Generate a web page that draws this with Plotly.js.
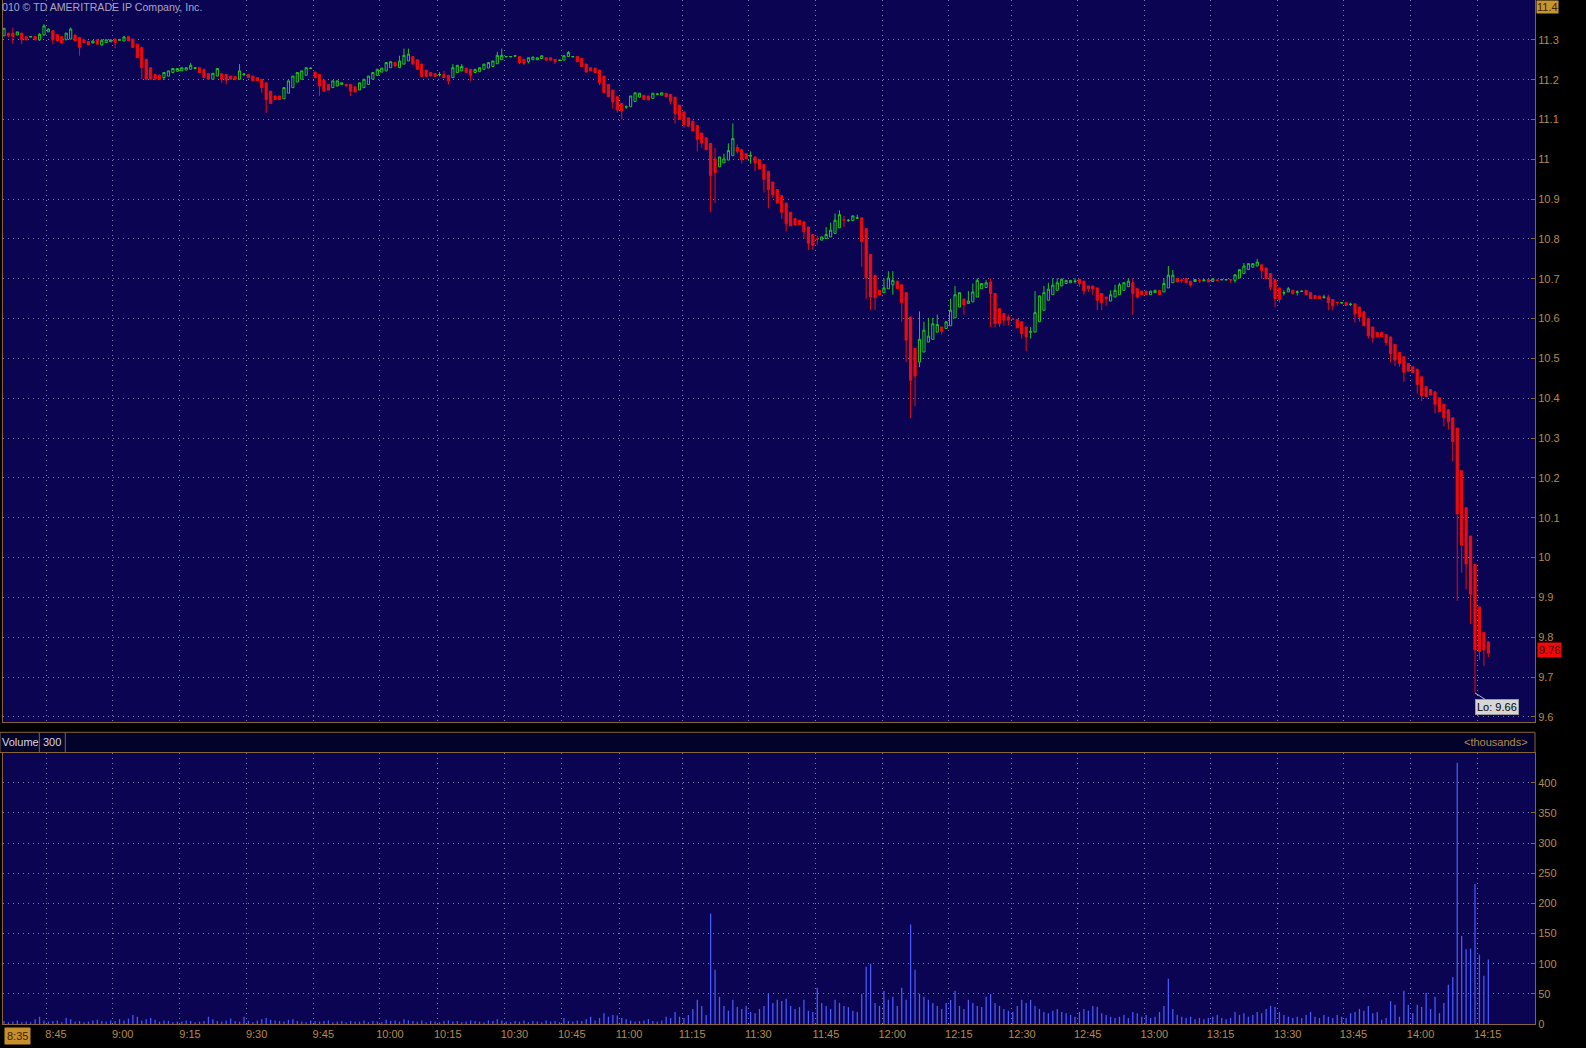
<!DOCTYPE html>
<html><head><meta charset="utf-8">
<script src="https://cdn.plot.ly/plotly-3.0.1.min.js"></script>
<style>html,body{margin:0;padding:0;background:#000;} #chart{width:1586px;height:1048px;}</style>
</head><body><div id="chart"></div>
<script>
// ---- data (1-minute bars, index order) ----
const openP = [
11.310,11.317,11.317,11.312,11.317,11.308,11.307,11.308,11.300,11.312,
11.320,11.323,11.313,11.308,11.300,11.302,11.312,11.306,11.300,11.296,
11.292,11.300,11.287,11.293,11.295,11.302,11.299,11.297,11.308,11.302,
11.289,11.281,11.251,11.230,11.213,11.211,11.205,11.209,11.218,11.221,
11.222,11.224,11.226,11.228,11.230,11.226,11.215,11.201,11.209,11.215,
11.213,11.209,11.208,11.201,11.213,11.213,11.209,11.205,11.201,11.192,
11.171,11.159,11.159,11.152,11.166,11.180,11.194,11.201,11.211,11.228,
11.219,11.213,11.199,11.188,11.180,11.184,11.188,11.188,11.188,11.182,
11.174,11.180,11.188,11.201,11.211,11.219,11.222,11.230,11.243,11.230,
11.239,11.247,11.258,11.250,11.239,11.224,11.218,11.215,11.212,11.213,
11.211,11.205,11.218,11.222,11.229,11.226,11.218,11.220,11.226,11.229,
11.233,11.240,11.250,11.257,11.257,11.259,11.258,11.251,11.245,11.250,
11.250,11.253,11.255,11.255,11.251,11.248,11.249,11.258,11.257,11.258,
11.253,11.239,11.230,11.229,11.224,11.209,11.188,11.174,11.157,11.140,
11.131,11.132,11.145,11.156,11.161,11.159,11.153,11.163,11.161,11.166,
11.163,11.156,11.136,11.119,11.104,11.096,11.085,11.066,11.054,11.040,
11.001,10.981,10.991,10.998,11.009,11.030,11.024,11.014,11.008,11.006,
10.999,10.987,10.970,10.943,10.924,10.909,10.890,10.867,10.851,10.847,
10.843,10.830,10.811,10.800,10.797,10.801,10.805,10.814,10.828,10.848,
10.846,10.846,10.852,10.853,10.826,10.761,10.709,10.671,10.665,10.675,
10.685,10.694,10.685,10.665,10.604,10.525,10.491,10.516,10.541,10.548,
10.566,10.579,10.575,10.582,10.602,10.629,10.649,10.638,10.642,10.654,
10.675,10.678,10.692,10.663,10.625,10.613,10.604,10.599,10.598,10.592,
10.579,10.566,10.566,10.592,10.621,10.646,10.660,10.671,10.682,10.688,
10.690,10.693,10.699,10.694,10.682,10.682,10.677,10.663,10.654,10.644,
10.654,10.660,10.671,10.680,10.690,10.675,10.669,10.669,10.660,10.665,
10.671,10.667,10.677,10.690,10.701,10.697,10.701,10.694,10.693,10.697,
10.695,10.698,10.693,10.697,10.697,10.697,10.698,10.696,10.702,10.713,
10.723,10.729,10.732,10.735,10.727,10.713,10.698,10.677,10.664,10.667,
10.671,10.666,10.668,10.671,10.665,10.658,10.657,10.653,10.654,10.648,
10.641,10.639,10.640,10.635,10.637,10.629,10.617,10.600,10.579,10.565,
10.565,10.560,10.554,10.535,10.515,10.504,10.487,10.479,10.473,10.454,
10.429,10.422,10.416,10.401,10.385,10.371,10.351,10.325,10.218,10.125,
10.054,9.983,9.876,9.812,9.788];
const highP = [
11.329,11.317,11.331,11.320,11.317,11.308,11.308,11.310,11.317,11.339,
11.329,11.323,11.313,11.308,11.317,11.331,11.312,11.306,11.300,11.296,
11.299,11.302,11.302,11.300,11.300,11.302,11.300,11.310,11.310,11.302,
11.289,11.281,11.251,11.230,11.213,11.213,11.218,11.222,11.228,11.228,
11.230,11.230,11.242,11.230,11.230,11.226,11.215,11.216,11.228,11.215,
11.213,11.209,11.208,11.239,11.216,11.213,11.209,11.205,11.201,11.192,
11.171,11.159,11.159,11.180,11.197,11.209,11.218,11.222,11.230,11.230,
11.219,11.213,11.199,11.188,11.197,11.197,11.192,11.188,11.188,11.182,
11.192,11.201,11.209,11.218,11.226,11.229,11.243,11.247,11.245,11.260,
11.278,11.278,11.258,11.250,11.239,11.224,11.218,11.215,11.219,11.222,
11.211,11.239,11.236,11.239,11.229,11.226,11.226,11.230,11.239,11.243,
11.247,11.270,11.278,11.258,11.258,11.260,11.258,11.251,11.255,11.257,
11.255,11.260,11.255,11.255,11.251,11.249,11.260,11.272,11.258,11.258,
11.253,11.239,11.230,11.229,11.224,11.209,11.188,11.174,11.157,11.140,
11.135,11.159,11.167,11.166,11.161,11.159,11.166,11.166,11.167,11.166,
11.163,11.156,11.136,11.119,11.104,11.096,11.085,11.066,11.054,11.040,
11.029,11.006,11.014,11.040,11.090,11.037,11.024,11.014,11.020,11.006,
10.999,10.987,10.970,10.943,10.924,10.909,10.890,10.867,10.851,10.847,
10.843,10.830,10.811,10.808,10.805,10.830,10.841,10.864,10.872,10.858,
10.850,10.858,10.861,10.853,10.826,10.761,10.709,10.671,10.701,10.719,
10.719,10.694,10.685,10.665,10.604,10.525,10.618,10.592,10.602,10.602,
10.610,10.579,10.592,10.650,10.682,10.665,10.649,10.669,10.688,10.701,
10.688,10.696,10.701,10.663,10.625,10.613,10.610,10.600,10.598,10.592,
10.579,10.579,10.669,10.657,10.682,10.690,10.701,10.701,10.701,10.696,
10.696,10.701,10.699,10.694,10.682,10.682,10.677,10.663,10.654,10.671,
10.685,10.690,10.690,10.701,10.701,10.675,10.669,10.669,10.669,10.671,
10.671,10.701,10.732,10.722,10.701,10.701,10.701,10.694,10.698,10.700,
10.698,10.698,10.700,10.698,10.700,10.699,10.698,10.710,10.723,10.740,
10.738,10.738,10.750,10.735,10.727,10.713,10.698,10.677,10.671,10.679,
10.671,10.671,10.670,10.671,10.665,10.658,10.657,10.660,10.660,10.648,
10.641,10.641,10.640,10.640,10.637,10.629,10.617,10.600,10.579,10.565,
10.568,10.560,10.554,10.535,10.515,10.504,10.487,10.479,10.473,10.454,
10.429,10.422,10.416,10.401,10.385,10.371,10.351,10.325,10.218,10.125,
10.054,9.983,9.876,9.812,9.790];
const lowP = [
11.310,11.306,11.289,11.312,11.289,11.299,11.307,11.300,11.297,11.312,
11.320,11.289,11.297,11.290,11.300,11.302,11.297,11.260,11.293,11.287,
11.292,11.289,11.285,11.293,11.295,11.279,11.299,11.297,11.297,11.281,
11.255,11.201,11.201,11.201,11.201,11.199,11.199,11.209,11.216,11.221,
11.222,11.224,11.226,11.228,11.218,11.205,11.201,11.201,11.209,11.192,
11.188,11.201,11.199,11.201,11.209,11.205,11.197,11.197,11.167,11.117,
11.140,11.150,11.150,11.152,11.166,11.180,11.194,11.201,11.211,11.226,
11.205,11.159,11.171,11.174,11.180,11.184,11.188,11.184,11.159,11.169,
11.174,11.180,11.188,11.201,11.211,11.219,11.222,11.230,11.234,11.230,
11.239,11.247,11.239,11.226,11.208,11.208,11.209,11.208,11.208,11.205,
11.188,11.205,11.218,11.222,11.218,11.197,11.218,11.220,11.226,11.229,
11.233,11.240,11.250,11.257,11.257,11.259,11.239,11.237,11.241,11.250,
11.250,11.253,11.249,11.249,11.239,11.248,11.249,11.258,11.257,11.245,
11.233,11.219,11.222,11.218,11.186,11.167,11.157,11.127,11.117,11.100,
11.127,11.132,11.145,11.156,11.150,11.149,11.153,11.161,11.161,11.157,
11.138,11.090,11.100,11.079,11.083,11.071,11.020,11.029,11.024,10.867,
10.890,10.981,10.991,10.998,11.009,11.014,10.989,11.001,10.989,10.970,
10.976,10.917,10.877,10.903,10.890,10.850,10.819,10.833,10.835,10.836,
10.801,10.772,10.772,10.786,10.797,10.801,10.805,10.814,10.828,10.830,
10.843,10.846,10.850,10.730,10.650,10.621,10.621,10.659,10.665,10.675,
10.660,10.675,10.592,10.491,10.350,10.380,10.478,10.516,10.541,10.548,
10.566,10.560,10.575,10.582,10.602,10.629,10.610,10.638,10.642,10.654,
10.675,10.678,10.579,10.579,10.579,10.582,10.583,10.597,10.577,10.550,
10.518,10.550,10.566,10.592,10.621,10.646,10.660,10.671,10.682,10.688,
10.690,10.688,10.680,10.660,10.667,10.660,10.621,10.621,10.632,10.644,
10.654,10.660,10.671,10.680,10.610,10.650,10.660,10.660,10.660,10.665,
10.660,10.667,10.677,10.690,10.692,10.690,10.690,10.680,10.693,10.690,
10.693,10.692,10.693,10.694,10.697,10.696,10.690,10.690,10.702,10.713,
10.723,10.729,10.732,10.700,10.700,10.671,10.629,10.640,10.658,10.667,
10.662,10.658,10.667,10.660,10.650,10.650,10.650,10.650,10.621,10.621,
10.633,10.638,10.633,10.632,10.590,10.592,10.582,10.550,10.540,10.554,
10.554,10.532,10.490,10.481,10.479,10.441,10.468,10.465,10.412,10.393,
10.404,10.408,10.362,10.366,10.329,10.321,10.241,9.891,9.962,9.920,
9.833,9.660,9.743,9.728,9.750];
const closeP = [
11.329,11.310,11.308,11.320,11.300,11.300,11.308,11.300,11.314,11.335,
11.327,11.300,11.297,11.292,11.317,11.327,11.297,11.281,11.293,11.287,
11.297,11.289,11.299,11.300,11.300,11.293,11.300,11.307,11.297,11.281,
11.255,11.230,11.201,11.201,11.201,11.201,11.218,11.222,11.228,11.228,
11.230,11.230,11.236,11.230,11.218,11.205,11.201,11.216,11.228,11.201,
11.199,11.201,11.201,11.222,11.214,11.205,11.197,11.197,11.180,11.150,
11.140,11.150,11.150,11.180,11.197,11.209,11.218,11.222,11.230,11.229,
11.205,11.184,11.171,11.174,11.197,11.197,11.192,11.184,11.171,11.169,
11.192,11.201,11.209,11.218,11.226,11.229,11.243,11.245,11.234,11.247,
11.261,11.264,11.239,11.226,11.208,11.208,11.209,11.208,11.213,11.205,
11.197,11.230,11.236,11.233,11.218,11.211,11.226,11.230,11.239,11.243,
11.247,11.261,11.261,11.258,11.258,11.260,11.243,11.241,11.255,11.257,
11.255,11.260,11.249,11.249,11.245,11.249,11.260,11.268,11.258,11.245,
11.233,11.219,11.222,11.218,11.192,11.167,11.157,11.144,11.124,11.121,
11.132,11.159,11.167,11.166,11.150,11.149,11.166,11.164,11.167,11.157,
11.146,11.115,11.100,11.087,11.083,11.071,11.050,11.041,11.024,10.959,
10.966,11.006,11.001,11.022,11.052,11.020,10.999,11.001,11.009,10.991,
10.976,10.949,10.924,10.911,10.890,10.867,10.838,10.833,10.835,10.836,
10.818,10.789,10.784,10.799,10.805,10.811,10.822,10.847,10.861,10.847,
10.847,10.858,10.853,10.793,10.702,10.654,10.652,10.659,10.677,10.702,
10.696,10.675,10.640,10.546,10.445,10.456,10.548,10.571,10.556,10.587,
10.585,10.568,10.592,10.621,10.660,10.665,10.635,10.644,10.667,10.696,
10.688,10.690,10.663,10.587,10.587,10.596,10.596,10.598,10.577,10.562,
10.554,10.567,10.615,10.657,10.665,10.674,10.684,10.690,10.699,10.696,
10.696,10.694,10.688,10.669,10.675,10.674,10.646,10.640,10.650,10.660,
10.671,10.685,10.690,10.694,10.663,10.654,10.660,10.660,10.669,10.671,
10.660,10.688,10.709,10.709,10.692,10.696,10.690,10.684,10.698,10.695,
10.697,10.692,10.700,10.696,10.698,10.698,10.697,10.710,10.723,10.732,
10.738,10.738,10.742,10.721,10.700,10.679,10.650,10.648,10.665,10.675,
10.662,10.667,10.669,10.660,10.650,10.650,10.650,10.654,10.640,10.632,
10.640,10.640,10.633,10.636,10.612,10.604,10.582,10.557,10.552,10.554,
10.554,10.540,10.512,10.496,10.487,10.465,10.468,10.465,10.435,10.406,
10.404,10.408,10.385,10.366,10.351,10.341,10.291,10.110,10.031,9.984,
9.908,9.768,9.764,9.768,9.760];
// volume in thousands
const volume = [
5,3,4,6,3,4,3,8,12,6,
4,5,6,3,10,8,4,5,3,4,
6,7,5,4,6,5,8,6,9,15,
12,6,8,10,7,4,6,5,3,4,
4,6,5,3,4,5,12,8,5,4,
6,9,5,4,12,5,3,6,8,10,
7,6,5,4,7,8,5,4,3,6,
5,4,5,6,3,4,5,3,5,4,
4,6,3,5,4,3,7,5,6,4,
8,6,5,4,6,3,5,4,3,5,
6,4,5,3,4,6,5,4,3,6,
5,8,6,4,3,5,4,6,3,5,
4,3,6,4,5,3,10,5,4,6,
5,8,12,6,10,18,12,15,14,10,
8,6,4,5,6,8,5,4,6,12,
10,20,12,10,15,25,40,30,15,183,
90,45,30,22,40,28,25,30,20,18,
25,30,50,35,40,38,42,30,25,28,
40,22,20,60,35,30,25,40,35,30,
28,22,20,50,95,100,35,30,55,40,
45,30,60,40,165,90,50,45,40,35,
30,25,35,40,55,30,25,40,35,30,
28,45,50,35,30,25,22,20,30,40,
35,40,30,25,20,18,22,25,20,18,
15,12,20,25,22,30,28,18,15,12,
10,12,15,10,20,18,12,15,10,12,
20,30,75,25,15,12,10,12,8,10,
8,10,12,15,10,8,10,20,15,18,
12,15,20,18,25,30,28,20,15,12,
10,12,10,15,20,12,10,15,12,10,
15,12,10,18,20,25,22,30,18,20,
7,10,38,32,12,55,32,18,32,28,
52,25,45,18,35,65,78,433,146,124,
125,232,115,80,107];
// time-axis ticks (bar-index position) and labels
const tickPos  = [9.45,24.45,39.6,54.6,69.6,84.6,97.6,112.6,125.5,138.4,152.6,167.5,182.7,197.6,212.6,226.8,241.6,256.6,271.5,286.6,301.4,316.5,331.6];
const tickText = ['8:45','9:00','9:15','9:30','9:45','10:00','10:15','10:30','10:45','11:00','11:15','11:30','11:45','12:00','12:15','12:30','12:45','13:00','13:15','13:30','13:45','14:00','14:15'];
const priceTicks = [9.6,9.7,9.8,9.9,10,10.1,10.2,10.3,10.4,10.5,10.6,10.7,10.8,10.9,11,11.1,11.2,11.3];
const priceTickText = ['9.6','9.7','9.8','9.9','10','10.1','10.2','10.3','10.4','10.5','10.6','10.7','10.8','10.9','11','11.1','11.2','11.3'];
const volTicks = [0,50,100,150,200,250,300,350,400];

// ---- styles ----
const BG = '#0a0452';
const GRID = '#7c78a8';
const BORDER = '#86653a';
const TAN = '#b88a4a';
const FONT = 'Liberation Sans, Arial, sans-serif';
const idx = openP.map((_, i) => i);
const xRange = [-0.225, 344.5];

let lowIdx = 0;
lowP.forEach((v, i) => { if (v < lowP[lowIdx]) lowIdx = i; });
const last = closeP.length - 1;

const traces = [
  {type:'candlestick', x: idx, open: openP, high: highP, low: lowP, close: closeP,
   xaxis:'x', yaxis:'y', whiskerwidth:0, hoverinfo:'none', showlegend:false,
   increasing:{line:{color:'#1ec81e', width:1}, fillcolor: BG},
   decreasing:{line:{color:'#f00a0a', width:1}, fillcolor:'#f00a0a'}},
  {type:'bar', x: idx, y: volume, xaxis:'x2', yaxis:'y2', width:0.28,
   marker:{color:'#4a5cff', line:{width:0}}, hoverinfo:'none', showlegend:false}
];

const axisCommon = {
  showgrid:true, gridcolor:GRID, griddash:'1px,4px', gridwidth:1, zeroline:false,
  showline:true, linecolor:BORDER, linewidth:1, mirror:true,
  tickfont:{family:FONT, size:11, color:TAN}
};
const pd = (px) => (px - 3) / 1532;       // paper x from pixel
const pv = (py) => (1024 - py) / 1024;    // paper y from pixel

const layout = {
  width:1586, height:1048, margin:{l:3, r:51, t:0, b:24},
  paper_bgcolor:'#000000', plot_bgcolor:BG, showlegend:false,
  font:{family:FONT, size:11, color:TAN},
  xaxis: Object.assign({}, axisCommon, {domain:[0,1], range:xRange, anchor:'y',
    tickmode:'array', tickvals:tickPos, ticktext:tickText, showticklabels:false,
    ticks:'', rangeslider:{visible:false}}),
  yaxis: Object.assign({}, axisCommon, {domain:[pv(722),1], range:[9.587,11.4], anchor:'x',
    side:'right', tickmode:'array', tickvals:priceTicks, ticktext:priceTickText,
    ticks:'inside', ticklen:4, tickcolor:BORDER}),
  xaxis2: Object.assign({}, axisCommon, {domain:[0,1], range:xRange, anchor:'y2',
    tickmode:'array', tickvals:tickPos, ticktext:tickText, showticklabels:true,
    ticks:'', ticklabelshift:10}),
  yaxis2: Object.assign({}, axisCommon, {domain:[0,pv(752.5)], range:[0,450], anchor:'x2',
    side:'right', tickmode:'array', tickvals:volTicks,
    ticks:'inside', ticklen:4, tickcolor:BORDER}),
  shapes:[
    {type:'rect', xref:'paper', yref:'paper', x0:pd(0), x1:1, y0:pv(752.5), y1:pv(732.3),
     fillcolor:'#03022a', line:{color:BORDER, width:1}, layer:'above'},
    {type:'line', xref:'paper', yref:'paper', x0:pd(39.3), x1:pd(39.3), y0:pv(752.5), y1:pv(732.3),
     line:{color:BORDER, width:1}},
    {type:'line', xref:'paper', yref:'paper', x0:pd(65.3), x1:pd(65.3), y0:pv(752.5), y1:pv(732.3),
     line:{color:BORDER, width:1}}
  ],
  annotations:[
    {xref:'paper', yref:'paper', x:pd(0), y:1, xanchor:'left', yanchor:'top', yshift:1,
     text:'010 © TD AMERITRADE IP Company, Inc.', showarrow:false,
     font:{family:FONT, size:10.6, color:'#a6a6c4'}},
    {xref:'paper', yref:'y', x:1, y:11.4, xanchor:'left', yanchor:'top', xshift:1,
     text:'11.4', showarrow:false, bgcolor:'#c8942e', borderpad:0,
     font:{family:FONT, size:11, color:'#3c2400'}},
    {xref:'paper', yref:'y', x:1, y:closeP[last], xanchor:'left', yanchor:'middle', xshift:2, yshift:3,
     text:closeP[last].toFixed(2), showarrow:false, bgcolor:'#ee0a0a', borderpad:1,
     font:{family:FONT, size:11, color:'#4a0000'}},
    {xref:'x', yref:'y', x:lowIdx, y:lowP[lowIdx], ax:22, ay:14, showarrow:true, arrowhead:0,
     arrowwidth:1, arrowcolor:'#b8b8c8', standoff:0,
     text:'Lo: ' + lowP[lowIdx].toFixed(2), bgcolor:'#d6d6d6', bordercolor:'#9a9a9a', borderpad:1,
     font:{family:FONT, size:11, color:'#000000'}},
    {xref:'paper', yref:'paper', x:pd(4), y:0, xanchor:'left', yanchor:'top', yshift:-3,
     text:'8:35', showarrow:false, bgcolor:'#c8902c', borderpad:2,
     font:{family:FONT, size:11, color:'#3a2200'}},
    {xref:'paper', yref:'paper', x:pd(0), y:pv(742.4), xanchor:'left', yanchor:'middle',
     text:'Volume', showarrow:false, font:{family:FONT, size:11, color:'#d8d8e0'}},
    {xref:'paper', yref:'paper', x:pd(52.3), y:pv(742.4), xanchor:'center', yanchor:'middle',
     text:'300', showarrow:false, font:{family:FONT, size:11, color:'#d8d8e0'}},
    {xref:'paper', yref:'paper', x:pd(1530), y:pv(742.4), xanchor:'right', yanchor:'middle',
     text:'&lt;thousands&gt;', showarrow:false, font:{family:FONT, size:11, color:TAN}}
  ]
};

Plotly.newPlot('chart', traces, layout, {staticPlot:true, displayModeBar:false});
</script>
</body></html>
